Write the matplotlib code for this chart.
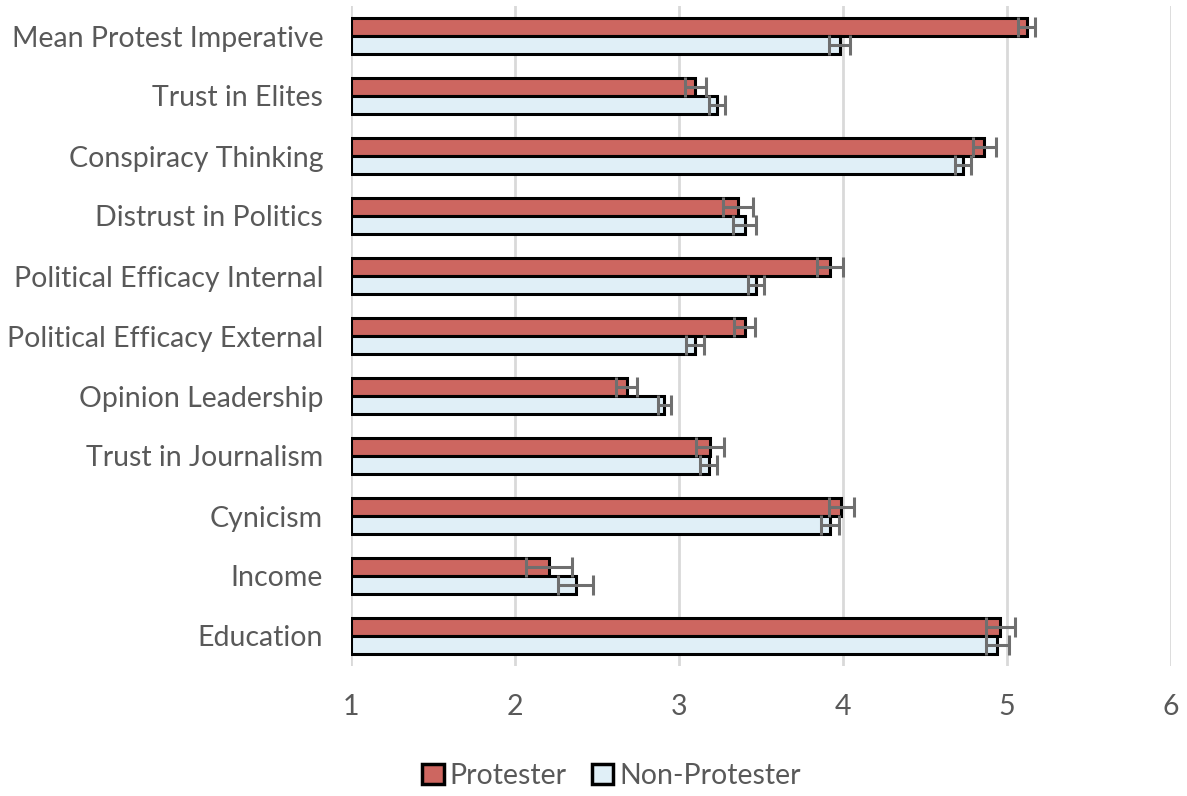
import numpy as np
import matplotlib
matplotlib.use("Agg")
import matplotlib.pyplot as plt
from matplotlib.patches import Patch

# Categories listed bottom to top
categories = ["Education", "Income", "Cynicism", "Trust in Journalism", "Opinion Leadership",
              "Political Efficacy External", "Political Efficacy Internal",
              "Distrust in Politics", "Conspiracy Thinking", "Trust in Elites",
              "Mean Protest Imperative"]
protester = [4.96, 2.21, 3.99, 3.19, 2.68, 3.40, 3.92, 3.36, 4.86, 3.10, 5.12]
protester_err = [0.09, 0.14, 0.075, 0.085, 0.065, 0.065, 0.08, 0.09, 0.07, 0.065, 0.05]
non_protester = [4.94, 2.37, 3.92, 3.18, 2.91, 3.10, 3.47, 3.40, 4.73, 3.23, 3.98]
non_protester_err = [0.07, 0.105, 0.055, 0.05, 0.04, 0.055, 0.05, 0.07, 0.05, 0.05, 0.065]
xticks = [1, 2, 3, 4, 5, 6]

plt.rcParams["font.family"] = ["Lato", "DejaVu Sans"]

red = "#CD6660"
blue = "#E0EFF7"
text_col = "#595959"
err_col = "#6F6F6F"

fig = plt.figure(figsize=(11.87, 7.96), dpi=100)
ax = fig.add_axes([351 / 1187, 1 - 666 / 796, 820 / 1187, 660 / 796])

y = np.arange(len(categories))
h = 0.30
base = 1.0

ax.barh(y + h / 2, np.array(protester) - base, left=base, height=h, color=red,
        edgecolor="black", linewidth=2.2, zorder=3)
ax.barh(y - h / 2, np.array(non_protester) - base, left=base, height=h, color=blue,
        edgecolor="black", linewidth=2.2, zorder=3)
ax.errorbar(protester, y + h / 2, xerr=protester_err, fmt="none", ecolor=err_col,
            elinewidth=2.2, capsize=7.5, capthick=2.2, zorder=4)
ax.errorbar(non_protester, y - h / 2, xerr=non_protester_err, fmt="none", ecolor=err_col,
            elinewidth=2.2, capsize=7.5, capthick=2.2, zorder=4)

ax.set_xlim(1, 6)
ax.set_ylim(-0.5, len(categories) - 0.5)
ax.set_xticks(xticks)
ax.set_xticklabels([str(t) for t in xticks])
ax.set_yticks(y)
ax.set_yticklabels(categories)
ax.tick_params(axis="both", length=0, labelsize=20.5, labelcolor=text_col)
ax.tick_params(axis="y", pad=20)
ax.tick_params(axis="x", pad=20)
ax.grid(axis="x", color="#D9D9D9", linewidth=2, zorder=0)
ax.set_axisbelow(True)
for s in ax.spines.values():
    s.set_visible(False)

handles = [Patch(facecolor=red, edgecolor="black", linewidth=2.5),
           Patch(facecolor=blue, edgecolor="black", linewidth=2.5)]
leg = fig.legend(handles, ["Protester", "Non-Protester"], loc="center",
                 bbox_to_anchor=(0.515, 1 - 776 / 796), ncol=2, frameon=False,
                 fontsize=20.5, handlelength=0.75, handleheight=0.75, handletextpad=0.2,
                 columnspacing=0.9)
for t in leg.get_texts():
    t.set_color(text_col)

fig.savefig("out.png", dpi=100)
